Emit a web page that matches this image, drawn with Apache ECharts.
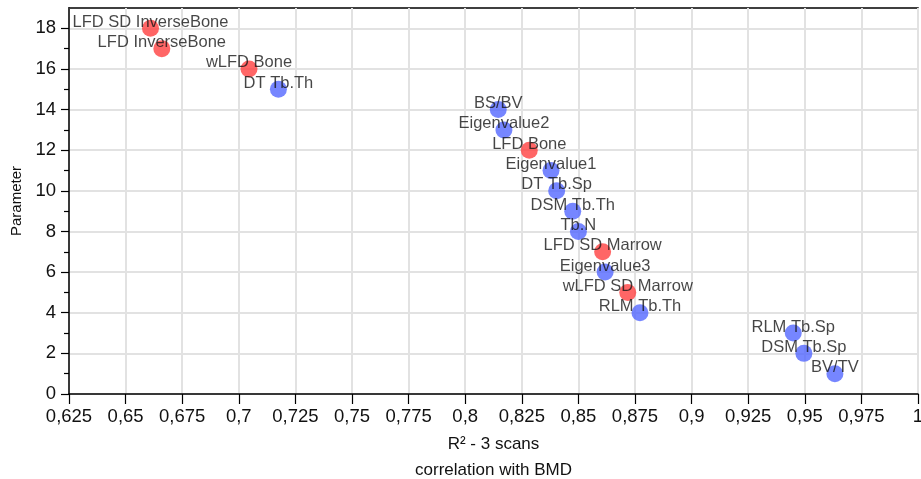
<!DOCTYPE html>
<html>
<head>
<meta charset="utf-8">
<script src="https://cdn.jsdelivr.net/npm/echarts@6/dist/echarts.min.js"></script>
<style>
  html, body { margin: 0; padding: 0; background: #fff; }
  #chart { width: 921px; height: 479px; }
</style>
</head>
<body>
<div id="chart"></div>
<script>
// Parameters ranked by R² (3 scans) of their correlation with BMD
const names = [
  'LFD SD InverseBone', 'LFD InverseBone', 'wLFD Bone', 'DT Tb.Th',
  'BS/BV', 'Eigenvalue2', 'LFD Bone', 'Eigenvalue1', 'DT Tb.Sp',
  'DSM Tb.Th', 'Tb.N', 'LFD SD Marrow', 'Eigenvalue3', 'wLFD SD Marrow',
  'RLM Tb.Th', 'RLM Tb.Sp', 'DSM Tb.Sp', 'BV/TV'
];
const r2 = [
  0.661, 0.666, 0.7045, 0.7175,
  0.8146, 0.8171, 0.8283, 0.8379, 0.8404,
  0.8475, 0.8500, 0.8607, 0.8618, 0.8718,
  0.8772, 0.9449, 0.9496, 0.9633
];
const rank = [18, 17, 16, 15, 14, 13, 12, 11, 10, 9, 8, 7, 6, 5, 4, 3, 2, 1];
// true = fractal (LFD) measure, false = morphometric measure
const isLFD = [
  true, true, true, false,
  false, false, true, false, false,
  false, false, true, false, true,
  false, false, false, false
];

const yTicks = [0, 2, 4, 6, 8, 10, 12, 14, 16, 18];
const yMinorTicks = [1, 3, 5, 7, 9, 11, 13, 15, 17];

function pointsFor(flag) {
  const out = [];
  names.forEach((n, i) => {
    if (isLFD[i] === flag) out.push({ name: n, value: [r2[i], rank[i]] });
  });
  return out;
}

const fmtX = v => String(parseFloat(v.toFixed(3))).replace('.', ',');

const textColor = '#111';
const font = 'Liberation Sans, Arial, sans-serif';

const labelStyle = {
  show: true,
  position: 'inside',
  offset: [0, -6],
  formatter: '{b}',
  color: '#161616',
  fontSize: 16.5,
  fontFamily: font
};

const chart = echarts.init(document.getElementById('chart'), null, { renderer: 'canvas' });
chart.setOption({
  animation: false,
  backgroundColor: '#fff',
  grid: {
    left: 69, right: 3, top: 8, bottom: 85,
    outerBoundsMode: 'none',
    containLabel: false,
    show: true, borderColor: '#000', borderWidth: 1.5, backgroundColor: 'transparent'
  },
  xAxis: {
    type: 'value',
    min: 0.625, max: 1, interval: 0.025,
    name: 'R² - 3 scans\ncorrelation with BMD',
    nameLocation: 'middle',
    nameGap: 33,
    nameTextStyle: { color: textColor, fontSize: 17, lineHeight: 26, fontFamily: font },
    axisLine: { show: true, lineStyle: { color: '#000', width: 1.5 } },
    axisTick: { show: true, length: 10, lineStyle: { color: '#000', width: 1.2 } },
    axisLabel: { color: textColor, fontSize: 18.5, margin: 13, fontFamily: font, formatter: fmtX },
    splitLine: { show: true, lineStyle: { color: '#e2e2e2', width: 2 } }
  },
  yAxis: [
    {
      type: 'value',
      min: 0, max: 19,
      name: 'Parameter',
      nameLocation: 'middle',
      nameGap: 41,
      nameTextStyle: { color: textColor, fontSize: 15, fontFamily: font },
      axisLine: { show: true, lineStyle: { color: '#000', width: 1.5 } },
      axisTick: { show: true, length: 8, customValues: yTicks, lineStyle: { color: '#000', width: 1.2 } },
      axisLabel: { color: textColor, fontSize: 18.5, margin: 13, fontFamily: font, customValues: yTicks },
      splitLine: { show: true, lineStyle: { color: '#e2e2e2', width: 2 } }
    },
    {
      type: 'value',
      min: 0, max: 19,
      position: 'left',
      axisLine: { show: false },
      axisTick: { show: true, length: 5, customValues: yMinorTicks, lineStyle: { color: '#000', width: 1.2 } },
      axisLabel: { show: false },
      splitLine: { show: false }
    }
  ],
  series: [
    {
      name: 'LFD',
      type: 'scatter',
      symbol: 'circle',
      symbolSize: 17,
      itemStyle: { color: '#ff4040' },
      label: labelStyle,
      data: pointsFor(true)
    },
    {
      name: 'Morphometry',
      type: 'scatter',
      symbol: 'circle',
      symbolSize: 17,
      itemStyle: { color: '#5468ff' },
      label: labelStyle,
      data: pointsFor(false)
    }
  ]
});
</script>
</body>
</html>
